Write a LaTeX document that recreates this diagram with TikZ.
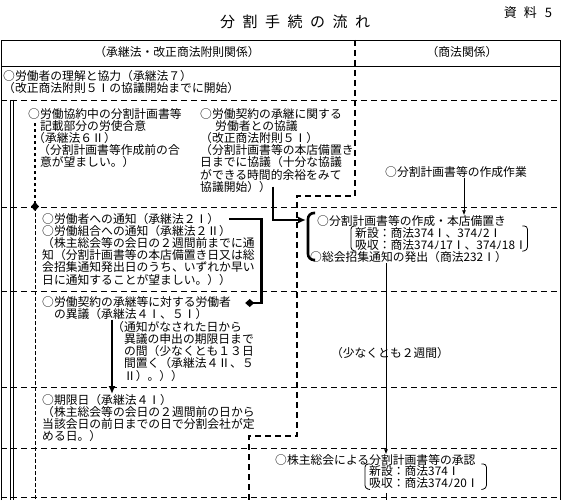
\documentclass[tikz,border=0pt]{standalone}
\usepackage{fontspec}
\setmainfont{Noto Sans CJK JP}
\usetikzlibrary{arrows.meta, positioning, calc}

\newcommand{\jtext}{\fontsize{11.8}{12.2}\selectfont}
\newcommand{\gap}{\hspace{7.5pt}}

\tikzset{
  txt/.style={anchor=north west, inner sep=0pt, align=left, font=\jtext},
  lbl/.style={inner sep=0pt, font=\jtext},
  frame/.style={line width=0.8pt},
  rowline/.style={line width=0.8pt, dash pattern=on 6pt off 4pt},
  colline/.style={line width=2.6pt, dash pattern=on 6pt off 4pt},
  guide/.style={line width=0.7pt, dash pattern=on 4pt off 2pt},
  flow/.style={line width=2.6pt, -{Latex[length=8pt,width=7pt]}},
  flowdia/.style={line width=2.6pt, -{Diamond[length=9pt,width=8pt]}},
  dotflow/.style={line width=2.8pt, dash pattern=on 3pt off 3pt, -{Diamond[length=9pt,width=8pt]}, shorten >=-4pt},
  link/.style={line width=0.8pt, -{Latex[length=5pt,width=4pt]}},
  paren/.style={line width=0.8pt, rounded corners=3pt},
  brace/.style={line width=2.6pt, rounded corners=6pt},
}

\begin{document}
\begin{tikzpicture}[x=1pt, y=-1pt]
  \useasboundingbox (0,0) rectangle (564,500);
  % frame, rows and column divider
  \draw[frame] (1,500) -- (1,40) -- (560,40) -- (560,500);
  \draw[frame] (1,66) -- (560,66);
  \draw[frame] (10,100) -- (10,500) (13,100) -- (13,500);
  \foreach \y in {100,207,291,387,448,497}
    \draw[rowline] (1,\y) -- (560,\y);
  \draw[colline] (355,40) |- (297,196) |- (249,436) -- (249,500);
  \coordinate (bottom) at (0,500);
  \coordinate (r2) at (0,207);
  \coordinate (spine) at (386,0);

  % headings
  \node[lbl, font=\fontsize{15}{15}\selectfont] (title) at (295,22) {分\gap 割\gap 手\gap 続\gap の\gap 流\gap れ};
  \node[lbl, font=\fontsize{13}{13}\selectfont] (doc) at (528,13) {資\hspace{7pt}料\hspace{8pt}5};
  \node[lbl] (headL) at (177,52) {（承継法・改正商法附則関係）};
  \node[lbl] (headR) at (462,52) {（商法関係）};

  % left column
  \node[txt] (rikai) at (3,70) {○労働者の理解と協力（承継法７）\\（改正商法附則５Ⅰの協議開始までに開始）};
  \node[txt] (kyoyaku) at (28,108) {○労働協約中の分割計画書等\\　記載部分の労使合意\\\hspace{5pt}（承継法６Ⅱ）\\\hspace{10pt}（分割計画書等作成前の合\\　意が望ましい。）};
  \node[txt] (kyogi) at (200,108) {○労働契約の承継に関する\\\hspace{15pt}労働者との協議\\（改正商法附則５Ⅰ）\\（分割計画書等の本店備置き\\日までに協議（十分な協議\\ができる時間的余裕をみて\\協議開始））};
  \node[txt] (tsuchi) at (42,213) {○労働者への通知（承継法２Ⅰ）};
  \node[txt] (kumiai) at (42,225) {○労働組合への通知（承継法２Ⅱ）\\（株主総会等の会日の２週間前までに通\\知（分割計画書等の本店備置き日又は総\\会招集通知発出日のうち、いずれか早い\\日に通知することが望ましい。））};
  \node[txt] (igi) at (42,296) {○労働契約の承継等に対する労働者\\　の異議（承継法４Ⅰ、５Ⅰ）};
  \node[txt] (kikan) at (112,321) {（通知がなされた日から\\　異議の申出の期限日まで\\　の間（少なくとも１３日\\　間置く（承継法４Ⅱ、５\\　Ⅱ）。））};
  \node[txt] (kigen) at (42,394) {○期限日（承継法４Ⅰ）\\（株主総会等の会日の２週間前の日から\\当該会日の前日までの日で分割会社が定\\める日。）};

  % right column
  \node[lbl, anchor=west] (sakusei) at (385,172) {○分割計画書等の作成作業};
  \node[lbl, anchor=west] (bichi) at (317,221) {○分割計画書等の作成・本店備置き};
  \node[txt, text width=168pt, font=\fontsize{11.8}{10.6}\selectfont] (shinL) at (355,227) {新設：商法374Ⅰ、374ﾉ2Ⅰ\\吸収：商法374ﾉ17Ⅰ、374ﾉ18Ⅰ};
  \node[lbl, anchor=west] (shoshu) at (310,257) {○総会招集通知の発出（商法232Ⅰ）};
  \node[lbl] (nishukan) at (390,353) {（少なくとも２週間）};
  \node[lbl, anchor=west] (shonin) at (275,460) {○株主総会による分割計画書等の承認};
  \node[txt, text width=113pt] (shinR) at (369,465) {新設：商法374Ⅰ\\吸収：商法374ﾉ20Ⅰ};

  % brackets
  \foreach \n in {shinL, shinR} {
    \draw[paren] ($(\n.north west)+(1,-1)$) -| ($(\n.south west)+(-4,0)$) -- ($(\n.south west)+(1,1)$);
    \draw[paren] ($(\n.north east)+(-1,-1)$) -| ($(\n.south east)+(4,0)$) -- ($(\n.south east)+(-1,1)$);
  }
  \coordinate (braceTop) at ($(bichi.west)+(-2,-8)$);
  \coordinate (braceBot) at ($(shoshu.west)+(5,3)$);
  \draw[brace] (braceTop) -| ($(bichi.west |- braceBot)+(-9,0)$) -- (braceBot);

  % connectors
  \coordinate (kyoyakuTail) at ($(kyoyaku.north west)+(7,15)$);
  \draw[dotflow] (kyoyakuTail) -- (kyoyakuTail |- r2);
  \draw[guide] (kyoyakuTail |- r2) -- (kyoyakuTail |- bottom);
  \draw[flow] ($(kyogi.south)+(-4,-6)$) |- ($(bichi.west)+(-11,-1)$);
  \draw[flowdia] ($(tsuchi.east)+(10,0)$) -| ($(igi.north east)+(30,7)$) -- ($(igi.north east)+(14,7)$);
  \draw[flow] (igi.south -| kikan.west) -- (kigen.north -| kikan.west);
  \draw[link] ($(sakusei.south)+(8,0)$) -- ($(sakusei.south |- bichi.north)+(8,0)$);
  \draw[link] (shoshu.south -| spine) -- (shonin.north -| spine);
  \draw[frame] ($(shinR.south -| spine)+(0,5)$) -- (bottom -| spine);
\end{tikzpicture}
\end{document}
